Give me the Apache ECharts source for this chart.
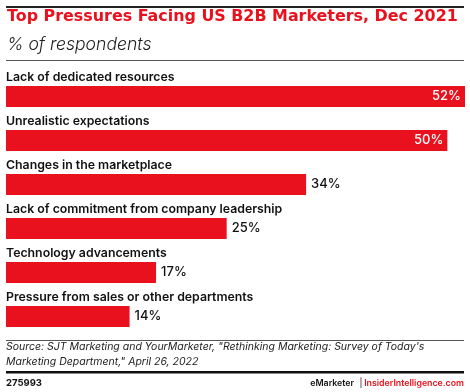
<!DOCTYPE html>
<html><head><meta charset="utf-8">
<script src="https://cdn.jsdelivr.net/npm/echarts@6/dist/echarts.min.js"></script>
<style>html,body{margin:0;padding:0;background:#fff}#c{width:470px;height:392px}</style>
</head><body><div id="c"></div>
<script>
const categories = ["Lack of dedicated resources","Unrealistic expectations","Changes in the marketplace","Lack of commitment from company leadership","Technology advancements","Pressure from sales or other departments"];
const values = [52,50,34,25,17,14];
const titleText = "Top Pressures Facing US B2B Marketers, Dec 2021";
const subtitleText = "% of respondents";
const sourceLines = ["Source: SJT Marketing and YourMarketer, \"Rethinking Marketing: Survey of Today's","Marketing Department,\" April 26, 2022"];
const chartId = "275993";

const RED = '#e8111d';
const FONT = 'Inter';
const chart = echarts.init(document.getElementById('c'), null, {renderer:'canvas'});
chart.setOption({
  animation:false,
  backgroundColor:'#fff',
  grid:{left:6, width:459, top:74.5, height:264, containLabel:false},
  xAxis:{type:'value', min:0, max:52, show:false},
  yAxis:{type:'category', data:categories, inverse:true,
    axisLine:{show:false}, axisTick:{show:false}, splitLine:{show:false},
    axisLabel:{inside:true, align:'left', verticalAlign:'bottom', margin:0, padding:[0,0,11.5,0],
      lineHeight:16, fontFamily:FONT, fontWeight:600, fontSize:12.3, color:'#111'}},
  series:[{type:'bar', data:values.map((v,i)=>({value:v, label: i<2 ? {position:'insideRight', color:'#fff', offset:[1,0]} : {position:'right', color:'#111'}})),
    barWidth:21, itemStyle:{color:RED},
    label:{show:true, formatter:'{c}%', fontFamily:FONT, fontWeight:500, fontSize:13, distance:5}}],
  graphic:[
    {type:'rect', shape:{x:6,y:6,width:458,height:2}, style:{fill:'#222'}},
    {type:'text', x:7, y:17, style:{text:titleText, fill:RED, font:'bold 15.9px "DejaVu Sans"', textVerticalAlign:'middle'}},
    {type:'text', x:7, y:45, style:{text:subtitleText, fill:'#222', font:'italic 300 17.6px '+FONT, textVerticalAlign:'middle'}},
    {type:'rect', shape:{x:6,y:60,width:458,height:1}, style:{fill:'#555'}},
    {type:'rect', shape:{x:6,y:340,width:458,height:1}, style:{fill:'#555'}},
    {type:'text', x:6, y:347, style:{text:sourceLines[0], fill:'#222', font:'italic 10.5px '+FONT, textVerticalAlign:'middle'}},
    {type:'text', x:6, y:362, style:{text:sourceLines[1], fill:'#222', font:'italic 10.5px '+FONT, textVerticalAlign:'middle'}},
    {type:'rect', shape:{x:6,y:371,width:458,height:2.5}, style:{fill:'#111'}},
    {type:'text', x:6, y:383, style:{text:chartId, fill:'#111', font:'bold 9.5px '+FONT, textVerticalAlign:'middle'}},
    {type:'text', x:354, y:383, style:{text:'eMarketer', fill:'#111', font:'600 8.8px '+FONT, textAlign:'right', textVerticalAlign:'middle'}},
    {type:'text', x:361, y:383, style:{text:'|', fill:'#111', font:'9px '+FONT, textAlign:'center', textVerticalAlign:'middle'}},
    {type:'text', x:464, y:383, style:{text:'InsiderIntelligence.com', fill:RED, font:'600 8.8px '+FONT, textAlign:'right', textVerticalAlign:'middle'}}
  ]
});
</script></body></html>
